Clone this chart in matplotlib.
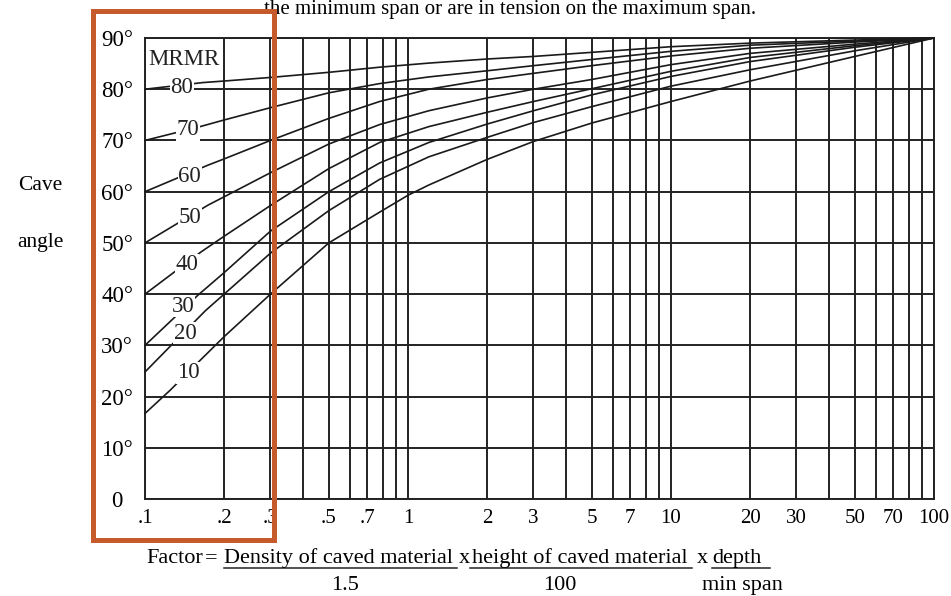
import matplotlib
matplotlib.use("Agg")
import matplotlib.pyplot as plt
from matplotlib.patches import Rectangle
from matplotlib.lines import Line2D

plt.rcParams['font.family'] = ['Liberation Serif', 'DejaVu Serif']

# factor (log scale) -> cave angle (degrees), one curve per MRMR value
mr80_x = [0.1, 0.166, 0.2, 0.3, 0.5, 0.78, 1.2, 2, 3, 5, 10, 20, 50, 100]
mr80_y = [80.0, 81.3, 81.6, 82.3, 83.3, 84.3, 85.1, 85.9, 86.4, 87.2, 88.3, 89.0, 89.6, 90.0]

mr70_x = [0.1, 0.162, 0.2, 0.3, 0.5, 0.78, 1.2, 2, 3, 5, 10, 20, 50, 100]
mr70_y = [70.0, 72.7, 74.0, 76.4, 79.3, 81.1, 82.4, 83.6, 84.6, 85.8, 87.4, 88.6, 89.4, 90.0]

mr60_x = [0.1, 0.174, 0.2, 0.3, 0.5, 0.78, 1.2, 2, 3, 5, 10, 20, 50, 100]
mr60_y = [60.0, 65.2, 66.4, 70.0, 74.3, 77.6, 80.0, 81.9, 83.1, 84.6, 86.5, 88.0, 89.2, 90.0]

mr50_x = [0.1, 0.174, 0.2, 0.3, 0.5, 0.78, 1.2, 2, 3, 5, 10, 20, 50, 100]
mr50_y = [50.0, 57.4, 59.0, 63.7, 69.3, 73.1, 75.8, 78.3, 80.0, 81.9, 84.8, 87.0, 88.8, 90.0]

mr40_x = [0.1, 0.164, 0.2, 0.3, 0.5, 0.78, 1.2, 2, 3, 5, 10, 20, 50, 100]
mr40_y = [40.0, 48.3, 51.3, 57.3, 64.5, 69.6, 72.7, 75.5, 77.6, 80.1, 83.5, 86.2, 88.5, 90.0]

mr30_x = [0.1, 0.128, 0.159, 0.2, 0.3, 0.5, 0.78, 1.2, 2, 3, 5, 10, 20, 50, 100]
mr30_y = [30.0, 35.2, 39.8, 44.2, 52.3, 60.0, 65.6, 69.6, 73.2, 75.8, 78.9, 82.5, 85.4, 88.2, 90.0]

mr20_x = [0.1, 0.128, 0.17, 0.2, 0.3, 0.5, 0.78, 1.2, 2, 3, 5, 10, 20, 50, 100]
mr20_y = [24.8, 30.4, 36.8, 40.0, 48.0, 56.3, 62.4, 66.8, 70.6, 73.5, 76.6, 80.6, 83.8, 87.5, 90.0]

mr10_x = [0.1, 0.125, 0.166, 0.2, 0.3, 0.5, 0.78, 1.0, 1.2, 2, 3, 5, 10, 20, 50, 100]
mr10_y = [16.7, 21.3, 27.6, 31.7, 40.0, 50.0, 56.0, 59.3, 61.3, 66.3, 69.8, 73.4, 77.6, 81.6, 86.4, 90.0]

mrmr_values = [80, 70, 60, 50, 40, 30, 20, 10]

x_major = [0.1, 0.2, 0.3, 0.5, 0.7, 1, 2, 3, 5, 7, 10, 20, 30, 50, 70, 100]
x_labels = [".1", ".2", ".3", ".5", ".7", "1", "2", "3", "5", "7", "10",
            "20", "30", "50", "70", "100"]
x_minor = [0.4, 0.6, 0.8, 0.9, 4, 6, 8, 9, 40, 60, 80, 90]
y_ticks = [0, 10, 20, 30, 40, 50, 60, 70, 80, 90]
y_labels = ["0", "10°", "20°", "30°", "40°", "50°", "60°", "70°", "80°", "90°"]

W, H = 951, 596
fig = plt.figure(figsize=(W / 100, H / 100), dpi=100)
ax = fig.add_axes([145 / W, 1 - 499 / H, (934 - 145) / W, (499 - 38) / H])

ax.set_xscale('log')
ax.set_xlim(0.1, 100)
ax.set_ylim(0, 90)

ax.set_xticks(x_major)
ax.set_xticklabels(x_labels, fontsize=15)
ax.set_xticks(x_minor, minor=True)
ax.set_yticks(y_ticks)
ax.set_yticklabels(y_labels, fontsize=16.5)
for lab in ax.get_yticklabels():
    lab.set_ha('center')
ax.tick_params(axis='both', which='both', length=0)
ax.tick_params(axis='x', pad=7)
ax.tick_params(axis='y', pad=20)
ax.grid(True, which='both', color='#222222', lw=1.4)
ax.set_axisbelow(True)
for s in ax.spines.values():
    s.set_color('#222222')
    s.set_linewidth(1.4)

curves = [(mr80_x, mr80_y), (mr70_x, mr70_y), (mr60_x, mr60_y), (mr50_x, mr50_y),
          (mr40_x, mr40_y), (mr30_x, mr30_y), (mr20_x, mr20_y), (mr10_x, mr10_y)]
for cx, cy in curves:
    ax.plot(cx, cy, color='#1a1a1a', lw=1.2, zorder=3, clip_on=False)

# curve labels sitting on the lines
label_pos = {80: (0.138, 80.3), 70: (0.146, 72.1), 60: (0.148, 63.0), 50: (0.148, 54.9),
             40: (0.144, 45.7), 30: (0.140, 37.6), 20: (0.142, 32.4), 10: (0.146, 24.6)}
for v in mrmr_values:
    px, py = label_pos[v]
    ax.text(px, py, str(v), ha='center', va='center', fontsize=16.5, color='#222222',
            zorder=5, bbox=dict(fc='white', ec='none', pad=0.3))

ax.text(0.1025, 85.8, 'MRMR', ha='left', va='center', fontsize=16.5, color='#222222', zorder=5)

fig.text(40 / W, 1 - 185 / H, 'Cave', ha='center', va='center', fontsize=15.5)
fig.text(40 / W, 1 - 243 / H, 'angle', ha='center', va='center', fontsize=15.5)

# top caption (only its lower part shows in the source)
fig.text(510 / W, 1 - 14 / H, 'the minimum span or are in tension on the maximum span.',
         ha='center', va='baseline', fontsize=15)

# factor formula under the x axis
fs = 16
base = 1 - 563 / H
fig.text(146 / W, base, 'Factor', ha='left', va='baseline', fontsize=fs)
fig.text(211 / W, base, '=', ha='center', va='baseline', fontsize=fs)
fig.text(224 / W, base, 'Density of caved material', ha='left', va='baseline', fontsize=fs)
fig.text(464 / W, base, 'x', ha='center', va='baseline', fontsize=fs)
fig.text(472 / W, base, 'height of caved material', ha='left', va='baseline', fontsize=fs)
fig.text(702 / W, base, 'x', ha='center', va='baseline', fontsize=fs)
fig.text(712 / W, base, 'depth', ha='left', va='baseline', fontsize=fs)
for x0, x1 in [(224, 457), (470, 692), (712, 770)]:
    fig.add_artist(Line2D([x0 / W, x1 / W], [1 - 568 / H, 1 - 568 / H],
                          color='#222222', lw=1.1, transform=fig.transFigure))
den = 1 - 590 / H
fig.text(345 / W, den, '1.5', ha='center', va='baseline', fontsize=fs)
fig.text(560 / W, den, '100', ha='center', va='baseline', fontsize=fs)
fig.text(742 / W, den, 'min span', ha='center', va='baseline', fontsize=fs)

# orange highlight box
fig.add_artist(Rectangle((93 / W, 1 - 539.5 / H), (274 - 93) / W, (539.5 - 10.5) / H,
                         fill=False, ec='#C55A2B', lw=3.6, transform=fig.transFigure,
                         zorder=10))

fig.savefig('out.png', dpi=100)
